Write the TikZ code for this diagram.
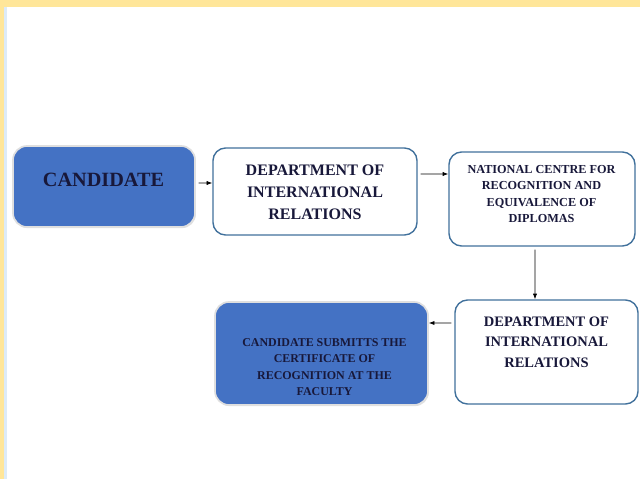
\documentclass[tikz,border=0pt]{standalone}
\usepackage{fontspec}
\setmainfont{Liberation Serif}
\usetikzlibrary{arrows.meta,shadows}
\definecolor{bandyellow}{HTML}{FFE699}
\definecolor{bandblue}{HTML}{DDEBF7}
\definecolor{boxblue}{HTML}{4472C4}
\definecolor{edgeblue}{HTML}{41719C}
\definecolor{inkblue}{HTML}{18183A}

\begin{document}
\begin{tikzpicture}[x=0.025cm,y=-0.025cm,
bluebox/.style={rectangle,rounded corners=10pt,fill=boxblue,draw=gray!25,line width=1.2pt,drop shadow={opacity=0.25,shadow xshift=0.6pt,shadow yshift=-0.8pt}},
whitebox/.style={rectangle,rounded corners=9pt,fill=white,draw=edgeblue,line width=1pt},
boxtext/.style={align=center,text=inkblue,inner sep=0},
arr/.style={-{Latex[length=4pt,width=3pt]},line width=0.5pt,shorten <=2pt}]

% frame
\useasboundingbox (0,0) rectangle (640,479);
\fill[white] (0,0) rectangle (640,479);
\fill[bandyellow] (0,0) rectangle (640,7);
\fill[bandyellow] (0,0) rectangle (4,479);
\fill[bandblue] (4,7) rectangle (7,479);

% Nodes
\node[bluebox,minimum width=4.55cm,minimum height=2.025cm] (cand) at (104,186.5) {};
\node[whitebox,minimum width=5.1cm,minimum height=2.175cm] (dept1) at (315,191.5) {};
\node[whitebox,minimum width=4.65cm,minimum height=2.35cm] (nat) at (542,199) {};
\node[whitebox,minimum width=4.575cm,minimum height=2.6cm] (dept2) at (546.5,352) {};
\node[bluebox,minimum width=5.325cm,minimum height=2.575cm] (subm) at (321.5,353.5) {};

% texts
\node[boxtext,font=\bfseries\fontsize{14.4}{17}\selectfont] (candt) at (103.5,180) {CANDIDATE};
\node[boxtext,font=\bfseries\fontsize{11.4}{15.6}\selectfont] (dept1t) at (315,192) {DEPARTMENT OF\\INTERNATIONAL\\RELATIONS};
\node[boxtext,font=\bfseries\fontsize{8.7}{11.5}\selectfont] (natt) at (541.5,194) {NATIONAL CENTRE FOR\\RECOGNITION AND\\EQUIVALENCE OF\\DIPLOMAS};
\node[boxtext,font=\bfseries\fontsize{10.3}{14.5}\selectfont] (dept2t) at (546.5,342) {DEPARTMENT OF\\INTERNATIONAL\\RELATIONS};
\node[boxtext,font=\bfseries\fontsize{8.5}{11.8}\selectfont] (submt) at (324.5,367) {CANDIDATE SUBMITTS THE\\CERTIFICATE OF\\RECOGNITION AT THE\\FACULTY};

%arcs
\path ([yshift=0.0875cm]cand.east) edge[arr] ([yshift=0.2125cm]dept1.west);
\path ([yshift=0.4375cm]dept1.east) edge[arr] ([yshift=0.625cm]nat.west);
\path ([xshift=-0.175cm]nat.south) edge[arr] ([xshift=-0.2875cm]dept2.north);
\path ([yshift=0.725cm]dept2.west) edge[arr] ([yshift=0.7625cm]subm.east);

\end{tikzpicture}
\end{document}
